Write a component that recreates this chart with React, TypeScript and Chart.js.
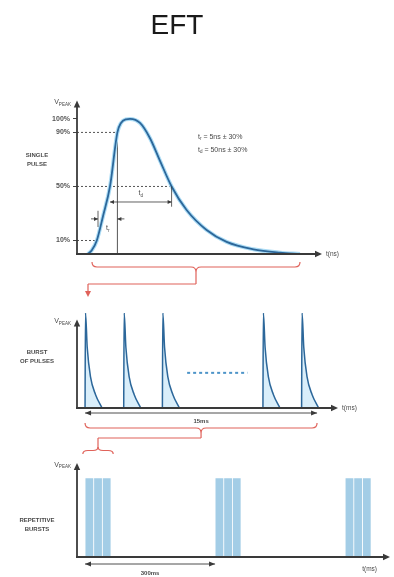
import React, { useEffect, useRef } from "react";
import { Chart, registerables } from "chart.js";
Chart.register(...registerables);

const FONT = "'Liberation Sans', Arial, sans-serif";

// ---- Panel 1: single pulse (time in ns, level in % of Vpeak) ----
const pulseTimeNs = [5.5, 7.5, 9.9, 13, 16.5, 20.2, 22, 24.5, 26.5, 31.5, 36.5, 41.5, 47.3, 54.8, 64.8, 74.8, 88.2, 101.5, 111.5];
const pulseLevelPct = [0, 3, 10, 28, 50, 90, 97, 99.7, 100, 97, 85.7, 69, 50, 32.6, 17.8, 9, 3.5, 1, 0];
const yTickPct = [10, 50, 90, 100];
const refLevelPct = [90, 50, 10];
const refCrossNs = [20.2, 47.3, 9.9];
const riseEdgeNs = [10.5, 20.2];
const decayEdgeNs = [16.5, 47.3];
const pulseSpanNs = [7.5, 111.5];

// ---- Panel 2: burst of pulses (time in ms) ----
const burstPulseStartMs = [0, 2.5, 5, 11.5, 14];
const burstShapeOffsetMs = [0, 0.03, 0.14, 0.35, 0.68, 1.1];
const burstShapeLevel = [0, 100, 64, 33, 14, 0];
const ellipsisMs = [6.6, 10.5];
const ellipsisLevel = [37, 37];
const burstSpanMs = [0, 15];

// ---- Panel 3: repetitive bursts (time in ms) ----
const subPulseMs = [10, 30, 50, 310, 330, 350, 610, 630, 650];
const subPulseLevel = [1, 1, 1, 1, 1, 1, 1, 1, 1];
const periodMs = [0, 300];
const firstBurstMs = [-5, 65];

const AXIS = "#3a3a3a";
const TEXT = "#4a4a4a";
const RED = "#e0625a";

type Ctx = CanvasRenderingContext2D;

function seg(ctx: Ctx, x1: number, y1: number, x2: number, y2: number, color: string, w: number, dash: number[] = []) {
  ctx.save();
  ctx.strokeStyle = color;
  ctx.lineWidth = w;
  ctx.setLineDash(dash);
  ctx.beginPath();
  ctx.moveTo(x1, y1);
  ctx.lineTo(x2, y2);
  ctx.stroke();
  ctx.restore();
}

function head(ctx: Ctx, x: number, y: number, dir: string, len: number, half: number, color: string) {
  ctx.save();
  ctx.fillStyle = color;
  ctx.beginPath();
  if (dir === "up") { ctx.moveTo(x, y); ctx.lineTo(x - half, y + len); ctx.lineTo(x + half, y + len); }
  else if (dir === "down") { ctx.moveTo(x, y); ctx.lineTo(x - half, y - len); ctx.lineTo(x + half, y - len); }
  else if (dir === "right") { ctx.moveTo(x, y); ctx.lineTo(x - len, y - half); ctx.lineTo(x - len, y + half); }
  else { ctx.moveTo(x, y); ctx.lineTo(x + len, y - half); ctx.lineTo(x + len, y + half); }
  ctx.closePath();
  ctx.fill();
  ctx.restore();
}

function txt(ctx: Ctx, s: string, x: number, y: number, size: number, align: CanvasTextAlign = "left", color = TEXT, weight = "normal") {
  ctx.save();
  ctx.font = `${weight} ${size}px ${FONT}`;
  ctx.fillStyle = color;
  ctx.textAlign = align;
  ctx.textBaseline = "middle";
  ctx.fillText(s, x, y);
  ctx.restore();
}

function subTxt(ctx: Ctx, main: string, sub: string, tail: string, x: number, y: number, size: number, align = "left") {
  ctx.save();
  const sSize = size * 0.65;
  ctx.font = `normal ${size}px ${FONT}`;
  const w1 = ctx.measureText(main).width;
  const w3 = ctx.measureText(tail).width;
  ctx.font = `normal ${sSize}px ${FONT}`;
  const w2 = ctx.measureText(sub).width;
  const total = w1 + w2 + w3;
  let x0 = x;
  if (align === "center") x0 = x - total / 2;
  else if (align === "right") x0 = x - total;
  ctx.fillStyle = TEXT;
  ctx.textAlign = "left";
  ctx.textBaseline = "middle";
  ctx.font = `normal ${size}px ${FONT}`;
  ctx.fillText(main, x0, y);
  ctx.font = `normal ${sSize}px ${FONT}`;
  ctx.fillText(sub, x0 + w1, y + size * 0.3);
  ctx.font = `normal ${size}px ${FONT}`;
  ctx.fillText(tail, x0 + w1 + w2, y);
  ctx.restore();
}

function brace(ctx: Ctx, x1: number, x2: number, y: number, d: number, color: string) {
  const xm = (x1 + x2) / 2;
  const r = Math.min(5, (x2 - x1) / 6);
  const h = y + d / 2;
  ctx.save();
  ctx.strokeStyle = color;
  ctx.lineWidth = 1.2;
  ctx.beginPath();
  ctx.moveTo(x1, y);
  ctx.quadraticCurveTo(x1, h, x1 + r, h);
  ctx.lineTo(xm - r, h);
  ctx.quadraticCurveTo(xm, h, xm, y + d);
  ctx.quadraticCurveTo(xm, h, xm + r, h);
  ctx.lineTo(x2 - r, h);
  ctx.quadraticCurveTo(x2, h, x2, y);
  ctx.stroke();
  ctx.restore();
}

function drawAxes(chart: any, yTopVal?: number) {
  const { ctx, chartArea } = chart;
  const { left, right, top, bottom } = chartArea;
  const yTop = yTopVal === undefined ? top : chart.scales.y.getPixelForValue(yTopVal);
  seg(ctx, left, bottom, left, yTop + 1, AXIS, 1.8);
  head(ctx, left, yTop - 5, "up", 7, 3.2, AXIS);
  seg(ctx, left - 1, bottom, right, bottom, AXIS, 1.8);
  head(ctx, right + 5, bottom, "right", 7, 3.2, AXIS);
  subTxt(ctx, "V", "PEAK", "", left - 6, yTop - 3, 7, "right");
  return yTop;
}

const panel1Plugin = {
  id: "panel1",
  afterDatasetsDraw(chart: any) {
    const { ctx, chartArea } = chart;
    const { right, bottom } = chartArea;
    const X = (v: number) => chart.scales.x.getPixelForValue(v);
    const Y = (v: number) => chart.scales.y.getPixelForValue(v);
    drawAxes(chart);
    txt(ctx, "t(ns)", right + 9, bottom, 6.5);
    txt(ctx, "SINGLE", 37, 155, 6, "center", TEXT, "bold");
    txt(ctx, "PULSE", 37, 164, 6, "center", TEXT, "bold");
    subTxt(ctx, "t", "r", " = 5ns ± 30%", 198, 137, 7, "left");
    subTxt(ctx, "t", "d", " = 50ns ± 30%", 198, 150, 7, "left");

    // t_r
    const yr = Y(26);
    const r0 = X(riseEdgeNs[0]);
    const r1 = X(riseEdgeNs[1]);
    seg(ctx, r0, Y(20), r0, Y(32), AXIS, 0.8);
    seg(ctx, r0 - 7, yr, r0, yr, AXIS, 0.8);
    head(ctx, r0, yr, "right", 4, 2, AXIS);
    seg(ctx, r1 + 7, yr, r1, yr, AXIS, 0.8);
    head(ctx, r1, yr, "left", 4, 2, AXIS);
    subTxt(ctx, "t", "r", "", (r0 + r1) / 2, Y(19), 7, "center");

    // t_d
    const yd = Y(38.5);
    const d0 = X(decayEdgeNs[0]);
    const d1 = X(decayEdgeNs[1]);
    seg(ctx, d0, yd, d1, yd, AXIS, 0.8);
    head(ctx, d0, yd, "left", 4, 2, AXIS);
    head(ctx, d1, yd, "right", 4, 2, AXIS);
    seg(ctx, d1, Y(50), d1, Y(35), AXIS, 0.8);
    subTxt(ctx, "t", "d", "", (d0 + d1) / 2, Y(45), 7, "center");

    // red connector to the burst panel
    const bx1 = X(pulseSpanNs[0]);
    const bx2 = X(pulseSpanNs[1]);
    const bm = (bx1 + bx2) / 2;
    brace(ctx, bx1, bx2, bottom + 8, 10, RED);
    seg(ctx, bm, bottom + 18, bm, bottom + 30, RED, 1.2);
    seg(ctx, bm, bottom + 30, 88, bottom + 30, RED, 1.2);
    seg(ctx, 88, bottom + 30, 88, bottom + 37, RED, 1.2);
    head(ctx, 88, bottom + 43, "down", 6, 3, RED);
  },
};

const panel2Plugin = {
  id: "panel2",
  afterDatasetsDraw(chart: any) {
    const { ctx, chartArea } = chart;
    const { right, bottom } = chartArea;
    const X = (v: number) => chart.scales.x.getPixelForValue(v);
    drawAxes(chart, 88);
    txt(ctx, "t(ms)", right + 9, bottom, 6.5);
    txt(ctx, "BURST", 37, 56, 6, "center", TEXT, "bold");
    txt(ctx, "OF PULSES", 37, 65, 6, "center", TEXT, "bold");

    const x0 = X(burstSpanMs[0]);
    const x1 = X(burstSpanMs[1]);
    const ya = bottom + 5;
    seg(ctx, x0, ya, x1, ya, AXIS, 0.9);
    head(ctx, x0, ya, "left", 6, 2.5, AXIS);
    head(ctx, x1, ya, "right", 6, 2.5, AXIS);
    txt(ctx, "15ms", (x0 + x1) / 2, bottom + 13.5, 6, "center", TEXT, "bold");

    const bm = (x0 + x1) / 2;
    brace(ctx, x0, x1, bottom + 15, 10, RED);
    seg(ctx, bm, bottom + 25, bm, bottom + 30, RED, 1.2);
    seg(ctx, bm, bottom + 30, 98, bottom + 30, RED, 1.2);
    seg(ctx, 98, bottom + 30, 98, bottom + 40, RED, 1.2);
  },
};

const panel3Plugin = {
  id: "panel3",
  afterDatasetsDraw(chart: any) {
    const { ctx, chartArea } = chart;
    const { bottom } = chartArea;
    const X = (v: number) => chart.scales.x.getPixelForValue(v);
    drawAxes(chart);
    txt(ctx, "t(ms)", 377, bottom + 12, 6.5, "right");
    txt(ctx, "REPETITIVE", 37, 80, 6, "center", TEXT, "bold");
    txt(ctx, "BURSTS", 37, 89, 6, "center", TEXT, "bold");

    const x0 = X(periodMs[0]);
    const x1 = X(periodMs[1]);
    const ya = bottom + 7;
    seg(ctx, x0, ya, x1, ya, AXIS, 0.9);
    head(ctx, x0, ya, "left", 6, 2.5, AXIS);
    head(ctx, x1, ya, "right", 6, 2.5, AXIS);
    txt(ctx, "300ms", (x0 + x1) / 2, bottom + 16, 6, "center", TEXT, "bold");

    brace(ctx, X(firstBurstMs[0]), X(firstBurstMs[1]), 14, -7, RED);
  },
};

function config1(): any {
  const pulse = pulseTimeNs.map((x, i) => ({ x, y: pulseLevelPct[i] }));
  const refs = refLevelPct.map((lvl, i) => ({
    data: [{ x: 0, y: lvl }, { x: refCrossNs[i], y: lvl }],
    borderColor: "#555",
    borderWidth: 1,
    borderDash: [2, 2],
    pointRadius: 0,
    order: 3,
  }));
  return {
    type: "line",
    data: {
      datasets: [
        { data: pulse, borderColor: "#acdcf5", borderWidth: 4, pointRadius: 0, cubicInterpolationMode: "monotone", order: 2 },
        { data: pulse, borderColor: "#2c679a", borderWidth: 1.8, pointRadius: 0, cubicInterpolationMode: "monotone", order: 1 },
        ...refs,
        {
          data: [{ x: riseEdgeNs[1], y: 0 }, { x: riseEdgeNs[1], y: refLevelPct[0] }],
          borderColor: "#555",
          borderWidth: 1,
          pointRadius: 0,
          order: 3,
        },
      ],
    },
    options: {
      animation: false,
      responsive: false,
      maintainAspectRatio: false,
      layout: { padding: { left: 37, right: 77, top: 0, bottom: 46 } },
      plugins: {
        legend: { display: false },
        tooltip: { enabled: false },
        title: {
          display: true,
          text: "EFT",
          color: "#1a1a1a",
          font: { family: FONT, size: 28, weight: "normal" },
          padding: { top: 9, bottom: 62.8 },
        },
      },
      scales: {
        x: { type: "linear", min: 0, max: 120, display: false },
        y: {
          type: "linear",
          min: 0,
          max: 110,
          afterBuildTicks: (axis: any) => {
            axis.ticks = yTickPct.map((v) => ({ value: v }));
          },
          afterFit: (axis: any) => {
            axis.width = 40;
          },
          ticks: {
            callback: (v: any) => v + "%",
            color: "#555",
            font: { family: FONT, size: 7, weight: "bold" },
            padding: 3,
          },
          grid: { display: true, drawOnChartArea: false, drawTicks: true, tickLength: 4, color: "#444" },
          border: { display: false },
        },
      },
    },
    plugins: [panel1Plugin],
  };
}

function config2(): any {
  const burstData: any[] = [];
  burstPulseStartMs.forEach((s, i) => {
    if (i > 0) burstData.push({ x: s - 0.3, y: null });
    burstShapeOffsetMs.forEach((o, j) => burstData.push({ x: s + o, y: burstShapeLevel[j] }));
  });
  return {
    type: "line",
    data: {
      datasets: [
        {
          data: burstData,
          borderColor: "#2c679a",
          borderWidth: 1.5,
          backgroundColor: "rgba(130,200,238,0.3)",
          fill: "origin",
          pointRadius: 0,
          spanGaps: false,
          cubicInterpolationMode: "monotone",
        },
        {
          data: ellipsisMs.map((x, i) => ({ x, y: ellipsisLevel[i] })),
          borderColor: "#4d94c8",
          borderWidth: 2,
          borderDash: [3, 3],
          pointRadius: 0,
        },
      ],
    },
    options: {
      animation: false,
      responsive: false,
      maintainAspectRatio: false,
      layout: { padding: { left: 77, right: 61, top: 17, bottom: 52 } },
      plugins: { legend: { display: false }, tooltip: { enabled: false } },
      scales: {
        x: { type: "linear", min: -0.52, max: 16.03, display: false },
        y: { type: "linear", min: 0, max: 100, display: false },
      },
    },
    plugins: [panel2Plugin],
  };
}

function config3(): any {
  return {
    type: "bar",
    data: {
      datasets: [
        {
          data: subPulseMs.map((x, i) => ({ x, y: subPulseLevel[i] })),
          backgroundColor: "#a3cde6",
          borderWidth: 0,
          barPercentage: 0.9,
          categoryPercentage: 1,
        },
      ],
    },
    options: {
      animation: false,
      responsive: false,
      maintainAspectRatio: false,
      layout: { padding: { left: 77, right: 9, top: 28, bottom: 20 } },
      plugins: { legend: { display: false }, tooltip: { enabled: false } },
      scales: {
        x: { type: "linear", min: -18.5, max: 692, offset: false, display: false },
        y: { type: "linear", min: 0, max: 1.13, display: false },
      },
    },
    plugins: [panel3Plugin],
  };
}

export default function App() {
  const r1 = useRef<HTMLCanvasElement>(null);
  const r2 = useRef<HTMLCanvasElement>(null);
  const r3 = useRef<HTMLCanvasElement>(null);
  useEffect(() => {
    const charts = [
      new Chart(r1.current as HTMLCanvasElement, config1()),
      new Chart(r2.current as HTMLCanvasElement, config2()),
      new Chart(r3.current as HTMLCanvasElement, config3()),
    ];
    return () => charts.forEach((c) => c.destroy());
  }, []);
  return (
    <div style={{ position: "absolute", left: 0, top: 0, width: 394, height: 577, background: "#fff" }}>
      <canvas ref={r1} width={394} height={300} style={{ position: "absolute", left: 0, top: 0 }} />
      <canvas ref={r2} width={394} height={164} style={{ position: "absolute", left: 0, top: 296 }} />
      <canvas ref={r3} width={394} height={137} style={{ position: "absolute", left: 0, top: 440 }} />
    </div>
  );
}
